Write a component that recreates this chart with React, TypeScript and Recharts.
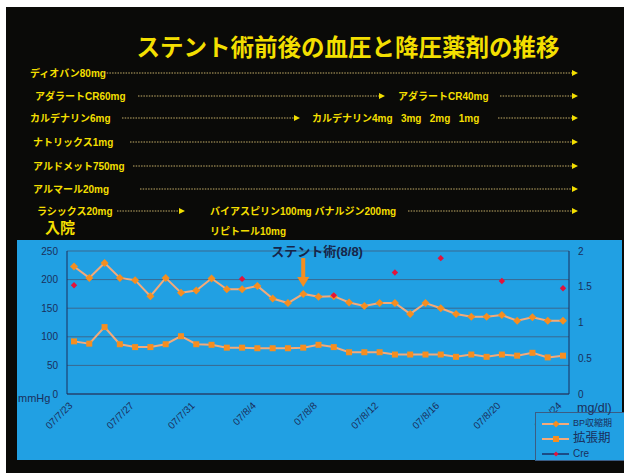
import React from 'react';
import { LineChart, Line, XAxis, YAxis, CartesianGrid, Legend, ReferenceDot } from 'recharts';

const dates = [
  '07/7/23', '07/7/24', '07/7/25', '07/7/26', '07/7/27', '07/7/28', '07/7/29', '07/7/30', '07/7/31',
  '07/8/1', '07/8/2', '07/8/3', '07/8/4', '07/8/5', '07/8/6', '07/8/7', '07/8/8', '07/8/9', '07/8/10',
  '07/8/11', '07/8/12', '07/8/13', '07/8/14', '07/8/15', '07/8/16', '07/8/17', '07/8/18', '07/8/19',
  '07/8/20', '07/8/21', '07/8/22', '07/8/23', '07/8/24',
];
const systolic = [
  223, 203, 229, 203, 199, 171, 203, 177, 181, 202, 183, 183, 189, 167, 159, 175, 170,
  171, 160, 154, 159, 159, 140, 159, 150, 140, 135, 135, 138, 128, 134, 128, 128,
];
const diastolic = [
  92, 88, 117, 87, 82, 82, 87, 101, 87, 86, 81, 81, 80, 80, 80, 81, 86,
  82, 73, 73, 73, 69, 69, 69, 69, 65, 69, 65, 69, 67, 72, 64, 67,
];
const creatinine: (number | null)[] = [
  1.52, null, null, null, null, null, null, null, null, null, null, 1.61, null, null, null, null, null,
  1.38, null, null, null, 1.7, null, null, 1.9, null, null, null, 1.58, null, null, null, 1.48,
];
const leftTicks = [0, 50, 100, 150, 200, 250];
const rightTicks = [0, 0.5, 1, 1.5, 2];
const seriesNames = ['BP収縮期', '拡張期', 'Cre'];
const leftUnit = 'mmHg';
const rightUnit = 'mg/dl)';
const stentLabel = 'ステント術(8/8)';
const stentDate = '07/8/7';
const stentArrowTip = 187;

const title = 'ステント術前後の血圧と降圧薬剤の推移';
const drugFirst = [
  'ディオバン80mg',
  'アダラートCR60mg',
  'カルデナリン6mg',
  'ナトリックス1mg',
  'アルドメット750mg',
  'アルマール20mg',
  'ラシックス20mg',
];
const drugSecond = [
  '',
  'アダラートCR40mg',
  'カルデナリン4mg\u00a0\u00a0\u00a03mg\u00a0\u00a0\u00a02mg\u00a0\u00a0\u00a01mg',
  '',
  '',
  '',
  'バイアスピリン100mg バナルジン200mg',
];
const admissionLabel = '入院';
const extraDrug = 'リピトール10mg';

const data = dates.map((d, i) => ({ date: d, sys: systolic[i], dia: diastolic[i], cre: creatinine[i] }));

const BLUE = '#21a0e3';
const NAVY = '#1a2f5c';
const GRID = '#3a6890';
const LINE = '#f3aa7a';
const MARK = '#f58e20';
const RED = '#e2143c';
const YELLOW = '#f3df00';
const DOTLINE = '#c4ad68';
const FONT = "'Liberation Sans', 'Noto Sans CJK JP', sans-serif";
const JFONT = "'Noto Sans CJK JP', sans-serif";

const SysDot = (p: any) => {
  if (p.cx == null || p.cy == null || p.value == null) return <g key={p.index} />;
  const r = 4;
  return (
    <path key={p.index} d={`M${p.cx},${p.cy - r} L${p.cx + r},${p.cy} L${p.cx},${p.cy + r} L${p.cx - r},${p.cy} Z`} fill={MARK} />
  );
};
const DiaDot = (p: any) => {
  if (p.cx == null || p.cy == null || p.value == null) return <g key={p.index} />;
  return <rect key={p.index} x={p.cx - 3} y={p.cy - 3} width={6} height={6} fill={MARK} />;
};
const CreDot = (p: any) => {
  if (p.cx == null || p.cy == null || p.value == null) return <g key={p.index} />;
  const r = 3.2;
  return (
    <path key={p.index} d={`M${p.cx},${p.cy - r} L${p.cx + r},${p.cy} L${p.cx},${p.cy + r} L${p.cx - r},${p.cy} Z`} fill={RED} />
  );
};

const DateTick = (p: any) => {
  const { x, y, payload } = p;
  return (
    <g transform={`translate(${x - 5},${y})`}>
      <text x={0} y={0} dy={6} textAnchor="end" fill={NAVY} fontSize={10} fontFamily={FONT} transform="rotate(-45)">
        {payload.value}
      </text>
    </g>
  );
};

const StentMarker = (p: any) => {
  const { cx, cy } = p;
  if (cx == null || cy == null) return <g />;
  return (
    <g>
      <text x={cx - 32} y={cy - 36} dominantBaseline="central" fill="#16264a" fontSize={13} fontWeight={700} fontFamily={FONT}>
        {stentLabel}
      </text>
      <rect x={cx - 2} y={cy - 29} width={4} height={20} fill={MARK} />
      <path d={`M${cx - 6},${cy - 10} L${cx + 6},${cy - 10} L${cx},${cy} Z`} fill={MARK} />
    </g>
  );
};

const LegendBox = () => {
  const rows = [
    { name: seriesNames[0], kind: 'sys', size: 9 },
    { name: seriesNames[1], kind: 'dia', size: 12.5 },
    { name: seriesNames[2], kind: 'cre', size: 10 },
  ];
  return (
    <div
      style={{
        border: `1px solid #3b5c84`,
        background: BLUE,
        width: 92,
        height: 49,
        boxSizing: 'border-box',
        paddingTop: 3,
        paddingLeft: 5,
        fontFamily: FONT,
      }}
    >
      {rows.map((r) => (
        <div key={r.name} style={{ display: 'flex', alignItems: 'center', height: 15 }}>
          <svg width={30} height={10} style={{ display: 'block' }}>
            <line x1={1} x2={28} y1={5} y2={5} stroke={r.kind === 'cre' ? '#1b4c86' : LINE} strokeWidth={2} />
            {r.kind === 'sys' && <path d="M15,1.5 L18.5,5 L15,8.5 L11.5,5 Z" fill={MARK} />}
            {r.kind === 'dia' && <rect x={12} y={2} width={6} height={6} fill={MARK} />}
            {r.kind === 'cre' && <path d="M15,2.5 L17.5,5 L15,7.5 L12.5,5 Z" fill={RED} />}
          </svg>
          <span style={{ color: NAVY, fontSize: r.size, marginLeft: 2, lineHeight: 1 }}>{r.name}</span>
        </div>
      ))}
    </div>
  );
};

export default function App() {
  const rowY = [73, 96, 118, 142, 166, 189, 211];
  const labelX = [30, 35, 30, 33, 33, 33, 37];
  const lineStart = [104, 138, 122, 130, 133, 140, 117];
  const switchX = [0, 385, 300, 0, 0, 0, 185];
  const secondX = [0, 398, 312, 0, 0, 0, 210];
  const secondLineStart = [0, 500, 498, 0, 0, 0, 408];
  const endX = 578;

  const arrow = (x: number, y: number, key: string) => (
    <path key={key} d={`M${x - 6},${y - 3} L${x},${y} L${x - 6},${y + 3} Z`} fill={YELLOW} />
  );
  const dotted = (x1: number, x2: number, y: number, key: string) => (
    <line key={key} x1={x1} x2={x2} y1={y} y2={y} stroke={DOTLINE} strokeWidth={1.2} strokeDasharray="1.5 1.2" />
  );

  return (
    <div style={{ position: 'absolute', left: 0, top: 0, width: 624, height: 475, background: '#ffffff', overflow: 'hidden' }}>
      <div style={{ position: 'absolute', left: 6, top: 7, width: 618, height: 466, background: '#0a0a08' }} />
      <svg width={624} height={240} style={{ position: 'absolute', left: 0, top: 0 }}>
        <text x={348} y={46} textAnchor="middle" dominantBaseline="central" fill={YELLOW} fontSize={23.5} fontWeight={700} fontFamily={JFONT}>
          {title}
        </text>
        {drugFirst.map((name, i) => {
          const y = rowY[i];
          const els: any[] = [];
          els.push(
            <text key={`t${i}`} x={labelX[i]} y={y} dominantBaseline="central" fill={YELLOW} fontSize={10} fontWeight={700} fontFamily={FONT}>
              {name}
            </text>
          );
          if (drugSecond[i]) {
            els.push(dotted(lineStart[i], switchX[i] - 5, y, `l${i}`));
            els.push(arrow(switchX[i], y, `a${i}`));
            els.push(
              <text key={`s${i}`} x={secondX[i]} y={y} dominantBaseline="central" fill={YELLOW} fontSize={10} fontWeight={700} fontFamily={FONT}>
                {drugSecond[i]}
              </text>
            );
            els.push(dotted(secondLineStart[i], endX - 5, y, `m${i}`));
          } else {
            els.push(dotted(lineStart[i], endX - 5, y, `l${i}`));
          }
          els.push(arrow(endX, y, `e${i}`));
          return <g key={`row${i}`}>{els}</g>;
        })}
        <text x={45} y={226} dominantBaseline="central" fill={YELLOW} fontSize={15} fontWeight={700} fontFamily={JFONT}>
          {admissionLabel}
        </text>
        <text x={210} y={231} dominantBaseline="central" fill={YELLOW} fontSize={10} fontWeight={700} fontFamily={FONT}>
          {extraDrug}
        </text>
      </svg>
      <div style={{ position: 'absolute', left: 17, top: 240, width: 605, height: 220, background: BLUE }}>
        <LineChart width={605} height={220} data={data} margin={{ top: 11, right: 13, bottom: 6, left: 10 }}>
          <CartesianGrid yAxisId="left" vertical={false} stroke={GRID} strokeWidth={1} />
          <XAxis
            dataKey="date"
            interval={3}
            padding={{ left: 7, right: 6 }}
            axisLine={{ stroke: NAVY, strokeWidth: 1 }}
            tickLine={false}
            height={60}
            tick={<DateTick />}
          />
          <YAxis
            yAxisId="left"
            domain={[0, 250]}
            ticks={leftTicks}
            width={40}
            axisLine={{ stroke: NAVY }}
            tickLine={false}
            tickSize={5}
            tickMargin={4}
            tick={{ fill: NAVY, fontSize: 10, fontFamily: FONT }}
          />
          <YAxis
            yAxisId="right"
            orientation="right"
            domain={[0, 2]}
            ticks={rightTicks}
            width={40}
            axisLine={{ stroke: NAVY }}
            tickLine={false}
            tickSize={5}
            tickMargin={4}
            tick={{ fill: NAVY, fontSize: 10, fontFamily: FONT, textAnchor: 'start' }}
          />
          <Line yAxisId="left" dataKey="sys" name={seriesNames[0]} stroke={LINE} strokeWidth={2} dot={SysDot} isAnimationActive={false} />
          <Line yAxisId="left" dataKey="dia" name={seriesNames[1]} stroke={LINE} strokeWidth={2} dot={DiaDot} isAnimationActive={false} />
          <Line yAxisId="right" dataKey="cre" name={seriesNames[2]} stroke="none" dot={CreDot} connectNulls={false} isAnimationActive={false} />
          <ReferenceDot yAxisId="left" x={stentDate} y={stentArrowTip} shape={StentMarker} ifOverflow="visible" />
          <Legend
            layout="horizontal"
            verticalAlign="middle"
            align="center"
            content={<LegendBox />}
            wrapperStyle={{ left: 518, top: 172, width: 92, height: 49 }}
          />
        </LineChart>
        <div style={{ position: 'absolute', left: 1, top: 153, color: NAVY, fontSize: 11, fontFamily: FONT, lineHeight: 1 }}>{leftUnit}</div>
        <div style={{ position: 'absolute', left: 560, top: 162, color: NAVY, fontSize: 12.5, fontFamily: FONT, lineHeight: 1 }}>{rightUnit}</div>
      </div>
    </div>
  );
}
